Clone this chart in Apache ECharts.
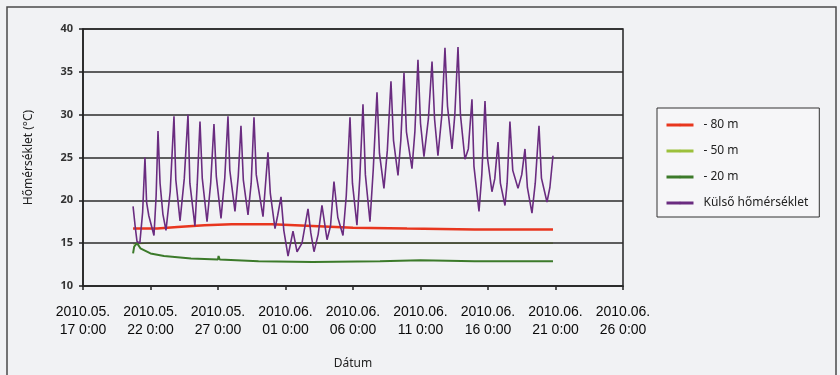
<!DOCTYPE html>
<html>
<head>
<meta charset="utf-8">
<script src="https://cdn.jsdelivr.net/npm/echarts@6/dist/echarts.min.js"></script>
<style>
  html, body { margin: 0; padding: 0; background: #f1f2f4; }
  #chart { width: 840px; height: 375px; }
</style>
</head>
<body>
<div id="chart"></div>
<script>
// Axis tick labels (every 5 days from 2010-05-17 0:00)
const tickLabels = [
  '2010.05.\n17 0:00', '2010.05.\n22 0:00', '2010.05.\n27 0:00',
  '2010.06.\n01 0:00', '2010.06.\n06 0:00', '2010.06.\n11 0:00',
  '2010.06.\n16 0:00', '2010.06.\n21 0:00', '2010.06.\n26 0:00'
];
const seriesNames = ['- 80 m', '- 50 m', '- 20 m', 'Külső hőmérséklet'];
const seriesColors = ['#e8361e', '#9cc03c', '#3c7a2a', '#6a2c80'];

// Ground temperature at -80 m
const depth80 = [
  ['05-20 17:00', 16.7], ['05-22 12:00', 16.7], ['05-24 00:00', 16.9],
  ['05-26 00:00', 17.1], ['05-28 00:00', 17.2], ['05-31 00:00', 17.2],
  ['06-03 00:00', 17.0], ['06-06 00:00', 16.8], ['06-10 00:00', 16.7],
  ['06-15 00:00', 16.6], ['06-20 19:30', 16.6]
];
// Ground temperature at -50 m
const depth50 = [
  ['05-20 17:00', 14.9], ['05-22 00:00', 15.0], ['05-28 00:00', 15.0],
  ['06-05 00:00', 15.0], ['06-12 00:00', 15.0], ['06-20 19:30', 15.0]
];
// Ground temperature at -20 m
const depth20 = [
  ['05-20 17:00', 13.8], ['05-20 19:00', 14.6], ['05-21 00:00', 15.0],
  ['05-21 06:00', 14.4], ['05-22 00:00', 13.8], ['05-23 00:00', 13.5],
  ['05-25 00:00', 13.2], ['05-27 00:00', 13.1], ['05-27 01:00', 13.5],
  ['05-27 03:00', 13.1], ['05-30 00:00', 12.9], ['06-03 00:00', 12.8],
  ['06-08 00:00', 12.9], ['06-11 00:00', 13.0], ['06-15 00:00', 12.9],
  ['06-20 19:30', 12.9]
];
// Outdoor air temperature
const outdoor = [
  ['05-20 17:00', 19.3], ['05-20 21:00', 16.8], ['05-21 00:00', 15.2], ['05-21 05:00', 15.0],
  ['05-21 10:00', 18.6], ['05-21 14:10', 25.0], ['05-21 17:00', 19.8], ['05-21 21:00', 18.2],
  ['05-22 06:10', 15.9], ['05-22 10:00', 20.5], ['05-22 13:20', 28.1], ['05-22 17:00', 22.0],
  ['05-22 22:00', 18.4], ['05-23 03:30', 16.5], ['05-23 11:00', 21.0], ['05-23 17:45', 29.8],
  ['05-23 21:00', 22.4], ['05-24 04:30', 17.6], ['05-24 12:00', 22.5], ['05-24 18:40', 30.0],
  ['05-24 22:00', 22.0], ['05-25 07:00', 17.0], ['05-25 11:00', 21.8], ['05-25 16:00', 29.2],
  ['05-25 20:00', 22.6], ['05-26 04:30', 17.5], ['05-26 11:00', 22.0], ['05-26 16:50', 28.9],
  ['05-26 21:00', 22.8], ['05-27 05:20', 17.9], ['05-27 12:00', 22.6], ['05-27 17:45', 29.8],
  ['05-27 21:00', 23.5], ['05-28 06:10', 18.7], ['05-28 12:00', 22.8], ['05-28 16:50', 28.7],
  ['05-28 21:00', 22.4], ['05-29 05:20', 18.3], ['05-29 11:00', 22.0], ['05-29 16:00', 29.7],
  ['05-29 20:00', 23.0], ['05-30 08:00', 18.1], ['05-30 12:00', 21.5], ['05-30 16:50', 25.6],
  ['05-30 21:00', 20.8], ['05-31 05:20', 16.7], ['05-31 10:00', 18.2], ['05-31 16:00', 20.4],
  ['05-31 21:00', 16.5], ['06-01 04:30', 13.5], ['06-01 13:20', 16.4], ['06-01 20:30', 14.0],
  ['06-02 05:20', 15.0], ['06-02 16:00', 19.0], ['06-02 21:00', 16.2], ['06-03 02:40', 14.0],
  ['06-03 10:00', 16.0], ['06-03 16:50', 19.4], ['06-04 01:50', 15.4], ['06-04 08:00', 17.0],
  ['06-04 14:10', 22.2], ['06-04 21:00', 18.0], ['06-05 06:10', 15.9], ['06-05 12:00', 20.5],
  ['06-05 18:40', 29.7], ['06-05 23:00', 22.0], ['06-06 07:00', 17.1], ['06-06 12:00', 22.5],
  ['06-06 17:45', 31.2], ['06-06 22:00', 23.0], ['06-07 06:10', 17.5], ['06-07 12:00', 23.6],
  ['06-07 18:40', 32.6], ['06-07 23:00', 25.5], ['06-08 07:00', 21.4], ['06-08 13:00', 25.8],
  ['06-08 19:30', 33.9], ['06-09 00:00', 27.0], ['06-09 08:00', 22.9], ['06-09 13:00', 27.0],
  ['06-09 18:40', 34.9], ['06-09 23:00', 28.0], ['06-10 08:50', 23.7], ['06-10 14:00', 28.0],
  ['06-10 19:30', 36.4], ['06-11 00:00', 29.0], ['06-11 06:10', 25.1], ['06-11 14:00', 29.5],
  ['06-11 20:30', 36.2], ['06-12 01:00', 29.5], ['06-12 07:00', 25.2], ['06-12 14:00', 30.0],
  ['06-12 19:30', 37.8], ['06-13 00:00', 31.0], ['06-13 08:00', 26.0], ['06-13 13:00', 30.0],
  ['06-13 18:40', 37.9], ['06-13 23:00', 30.0], ['06-14 07:00', 24.8], ['06-14 13:00', 26.0],
  ['06-14 19:30', 31.8], ['06-14 23:00', 24.0], ['06-15 08:00', 18.7], ['06-15 13:00', 23.0],
  ['06-15 18:40', 31.6], ['06-15 23:00', 25.0], ['06-16 07:00', 21.0], ['06-16 12:00', 22.5],
  ['06-16 17:45', 26.8], ['06-16 22:00', 22.0], ['06-17 06:10', 19.4], ['06-17 10:00', 22.0],
  ['06-17 15:00', 29.2], ['06-17 20:00', 23.5], ['06-18 05:20', 21.4], ['06-18 12:00', 23.0],
  ['06-18 17:45', 26.0], ['06-18 22:00', 21.5], ['06-19 06:10', 18.5], ['06-19 12:00', 22.0],
  ['06-19 18:40', 28.7], ['06-19 23:00', 22.6], ['06-20 08:50', 19.8], ['06-20 14:00', 21.5],
  ['06-20 19:30', 25.2]
];

// Convert 'MM-DD HH:mm' (year 2010) into days elapsed since 2010-05-17 0:00
const ORIGIN = Date.UTC(2010, 4, 17);
function toDays(stamp) {
  const [md, hm] = stamp.split(' ');
  const [mo, dd] = md.split('-').map(Number);
  const [hh, mi] = hm.split(':').map(Number);
  return (Date.UTC(2010, mo - 1, dd, hh, mi) - ORIGIN) / 86400000;
}
const prep = arr => arr.map(([t, v]) => [toDays(t), v]);

const textFont = '"Noto Sans", "Open Sans", sans-serif';
const tickFont = '"Liberation Sans", Arial, sans-serif';

const chart = echarts.init(document.getElementById('chart'));
chart.setOption({
  backgroundColor: '#f1f2f4',
  animation: false,
  graphic: [{
    type: 'rect', z: -10,
    shape: { x: 7, y: 7, width: 829, height: 380 },
    style: { fill: 'transparent', stroke: '#4a4a4a', lineWidth: 1.5 }
  }],
  grid: {
    left: 83, top: 29, right: 217, bottom: 87,
    show: true, borderColor: '#222', borderWidth: 1.5, backgroundColor: 'transparent'
  },
  legend: {
    orient: 'vertical',
    left: 657, top: 108,
    padding: [11, 11, 8, 8],
    itemWidth: 27, itemHeight: 3, itemGap: 14,
    borderColor: '#333', borderWidth: 1,
    backgroundColor: 'rgba(255,255,255,0.35)',
    textStyle: { fontFamily: textFont, fontSize: 12, color: '#222', padding: [0, 0, 0, 5] },
    data: seriesNames.map((n, i) => ({ name: n, lineStyle: { color: seriesColors[i], width: 3 } }))
  },
  xAxis: {
    type: 'value', min: 0, max: 40, interval: 5,
    name: 'Dátum', nameLocation: 'middle', nameGap: 72,
    nameTextStyle: { fontFamily: textFont, fontSize: 12, color: '#222' },
    axisLine: { lineStyle: { color: '#222', width: 1.5 } },
    axisTick: { show: true, length: 4, lineStyle: { color: '#222', width: 1.5 } },
    splitLine: { show: false },
    axisLabel: {
      margin: 17, color: '#0a0a0a', fontFamily: tickFont, fontSize: 14, lineHeight: 18,
      formatter: v => tickLabels[Math.round(v / 5)] || ''
    }
  },
  yAxis: {
    type: 'value', min: 10, max: 40, interval: 5,
    name: 'Hőmérséklet (°C)', nameLocation: 'middle', nameGap: 48, nameRotate: 90,
    nameTextStyle: { fontFamily: textFont, fontSize: 12, color: '#222' },
    axisLine: { show: true, lineStyle: { color: '#222', width: 1.5 } },
    axisTick: { show: true, length: 4, lineStyle: { color: '#222', width: 1.5 } },
    splitLine: { show: true, lineStyle: { color: '#2b2b2b', width: 1.5 } },
    axisLabel: { margin: 10, color: '#333', fontFamily: textFont, fontSize: 11, fontWeight: 'bold' },
    z: 1
  },
  series: [
    {
      name: seriesNames[1], type: 'line', symbol: 'none', z: 0,
      data: prep(depth50),
      itemStyle: { color: seriesColors[1] },
      lineStyle: { color: seriesColors[1], width: 1.2 }
    },
    {
      name: seriesNames[3], type: 'line', symbol: 'none', z: 3,
      data: prep(outdoor),
      itemStyle: { color: seriesColors[3] },
      lineStyle: { color: seriesColors[3], width: 1.6 }
    },
    {
      name: seriesNames[0], type: 'line', symbol: 'none', z: 2,
      data: prep(depth80),
      itemStyle: { color: seriesColors[0] },
      lineStyle: { color: seriesColors[0], width: 2.5 }
    },
    {
      name: seriesNames[2], type: 'line', symbol: 'none', z: 2,
      data: prep(depth20),
      itemStyle: { color: seriesColors[2] },
      lineStyle: { color: seriesColors[2], width: 2 }
    }
  ]
});
</script>
</body>
</html>
